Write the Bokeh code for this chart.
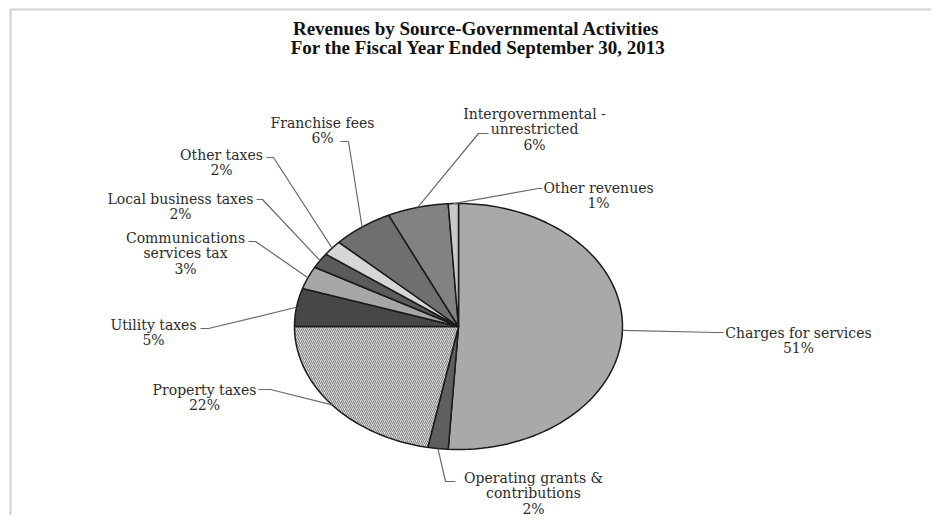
import numpy as np
from bokeh.plotting import figure
from bokeh.models import Range1d, ColumnDataSource
from bokeh.core.properties import value
from bokeh.embed import file_html
from bokeh.resources import INLINE

# ---------------- data ----------------
categories = [
    "Charges for services",
    "Operating grants &\ncontributions",
    "Property taxes",
    "Utility taxes",
    "Communications\nservices tax",
    "Local business taxes",
    "Other taxes",
    "Franchise fees",
    "Intergovernmental -\nunrestricted",
    "Other revenues",
]
shares = [51, 2, 22, 5, 3, 2, 2, 6, 6, 1]
title_lines = ["Revenues by Source-Governmental  Activities",
               "For the Fiscal Year Ended September 30, 2013"]

# ---------------- styles / layout ----------------
slice_colors = ["#a9a9a9", "#5f5f5f", "#d6d6d6", "#474747", "#a6a6a6",
                "#5b5b5b", "#d6d6d6", "#6f6f6f", "#828282", "#c9c9c9"]
hatched = "Property taxes"
# label centre x, first line y, elbow (x, y), end x of leader
label_x = [798, 533, 204, 153, 185, 180, 221, 322, 534, 598]
label_y = [332, 477, 389, 324, 237, 198, 154, 122, 113, 187]
elbow_x = [716, 445, 270, 208, 255, 262, 273, 348, 478, 538]
elbow_y = [332, 481, 389, 328, 241, 199, 157, 141, 133, 188]
end_x   = [723, 455, 258, 200, 248, 256, 266, 340, 488, 542]
LINE_H = 15.5

W, H = 931, 515
CX, CY, RX, RY = 458, 326, 164, 123

p = figure(width=W, height=H, x_range=Range1d(0, W), y_range=Range1d(H, 0),
           output_backend="svg", toolbar_location=None, min_border=0)
p.axis.visible = False
p.grid.visible = False
p.outline_line_color = None
p.background_fill_color = "white"
p.border_fill_color = "white"

# page frame (as in the scanned reference)
p.line([10, 10, W], [H, 9, 9], line_color="#d2d2d2", line_width=2)

# ---------------- pie (elliptical) ----------------
frac = np.array(shares, dtype=float) / sum(shares)
bounds = np.concatenate([[0], np.cumsum(frac)]) * 2 * np.pi
xs, ys, ax, ay = [], [], [], []
for i in range(len(shares)):
    t = np.linspace(bounds[i], bounds[i + 1], 80)
    xs.append([CX] + list(CX + RX * np.sin(t)))
    ys.append([CY] + list(CY - RY * np.cos(t)))
    m = (bounds[i] + bounds[i + 1]) / 2
    ax.append(CX + RX * np.sin(m))
    ay.append(CY - RY * np.cos(m))

src = ColumnDataSource(dict(xs=xs, ys=ys, color=slice_colors,
                            hatch=["/" if c == hatched else " " for c in categories]))
p.patches("xs", "ys", source=src, fill_color="color", line_color="#1a1a1a",
          line_width=1.5, hatch_pattern="hatch", hatch_color="#7a7a7a",
          hatch_scale=4, hatch_weight=0.9)

# ---------------- leaders ----------------
lx = [[ax[i], elbow_x[i], end_x[i]] for i in range(len(shares))]
ly = [[ay[i], elbow_y[i], elbow_y[i]] for i in range(len(shares))]
p.multi_line(lx, ly, line_color="#6a6a6a", line_width=1.2)

# ---------------- labels ----------------
tx, ty, tt = [], [], []
for i, c in enumerate(categories):
    lines = c.split("\n") + [f"{shares[i]}%"]
    for j, s in enumerate(lines):
        tx.append(label_x[i])
        ty.append(label_y[i] + j * LINE_H)
        tt.append(s)
p.text(tx, ty, text=tt, text_font=value("DejaVu Serif"), text_font_size="14px",
       text_color="#2c2c2c", text_align="center", text_baseline="middle")

# ---------------- title ----------------
p.text([478, 478], [28, 47], text=title_lines, text_font=value("Liberation Serif"),
       text_font_size="19px", text_font_style="bold", text_color="#111111",
       text_align="center", text_baseline="middle")

open("out.html", "w").write(file_html(p, INLINE))
